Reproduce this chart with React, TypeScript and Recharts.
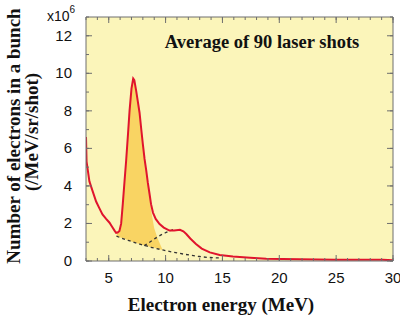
import React from 'react';
import { ComposedChart, Line, Area, XAxis, YAxis, CartesianGrid } from 'recharts';

// Electron energy (MeV) / electrons per MeV/sr/shot (x10^6)
const spectrumEnergy = [3.0, 3.05, 3.3, 3.56, 3.89, 4.16, 4.45, 4.77, 5.07, 5.28, 5.51, 5.65, 5.78, 5.94, 6.09, 6.24, 6.39, 6.53, 6.7, 6.83, 7.0, 7.15, 7.25, 7.41, 7.56, 7.71, 7.86, 8.0, 8.15, 8.3, 8.44, 8.59, 8.72, 8.89, 9.13, 9.47, 9.84, 10.34, 10.75, 11.26, 11.56, 11.82, 12.17, 12.67, 13.18, 13.89, 14.76, 15.92, 17.44, 18.85, 21.79, 24.93, 29.09, 30.0];
const spectrumCount = [6.6, 5.3, 4.24, 3.76, 3.17, 2.83, 2.48, 2.24, 2.04, 1.84, 1.62, 1.5, 1.52, 1.6, 1.99, 3.07, 4.26, 5.34, 6.82, 8.0, 9.18, 9.72, 9.63, 9.08, 8.49, 7.9, 7.02, 6.23, 5.44, 4.81, 4.16, 3.57, 3.03, 2.58, 2.24, 1.97, 1.78, 1.62, 1.62, 1.66, 1.58, 1.44, 1.2, 0.91, 0.66, 0.46, 0.32, 0.24, 0.17, 0.12, 0.09, 0.07, 0.06, 0.04];

const baselineEnergy = [5.68, 6.7, 7.71, 8.32, 8.72, 9.74, 10.75, 11.76, 12.98, 13.79, 14.8];
const baselineCount = [1.32, 1.1, 0.9, 0.8, 0.73, 0.59, 0.46, 0.35, 0.24, 0.19, 0.16];

const humpEnergy = [8.12, 8.72, 9.33, 9.94, 10.65];
const humpCount = [0.82, 1.05, 1.3, 1.49, 1.67];

const peakEnergy = [5.68, 5.78, 5.94, 6.09, 6.24, 6.39, 6.53, 6.7, 6.83, 7.0, 7.15, 7.25, 7.41, 7.56, 7.71, 7.86, 8.0, 8.15, 8.3, 8.44, 8.6, 8.75, 9.0, 9.3, 9.74];
const peakLow = [1.32, 1.3, 1.27, 1.24, 1.21, 1.18, 1.15, 1.1, 1.08, 1.04, 1.01, 0.99, 0.96, 0.93, 0.9, 0.88, 0.85, 0.83, 0.8, 0.78, 0.76, 0.74, 0.7, 0.65, 0.59];
const peakHigh = [1.32, 1.52, 1.6, 1.99, 3.07, 4.26, 5.34, 6.82, 8.0, 9.18, 9.72, 9.63, 9.08, 8.49, 7.9, 7.02, 6.23, 5.44, 4.81, 4.16, 3.5, 2.6, 1.75, 1.2, 0.59];

const xTicks = [3, 4, 5, 6, 7, 8, 9, 10, 11, 12, 13, 14, 15, 16, 17, 18, 19, 20, 21, 22, 23, 24, 25, 26, 27, 28, 29, 30];
const yTicks = [0, 1, 2, 3, 4, 5, 6, 7, 8, 9, 10, 11, 12, 13];

const spectrum = spectrumEnergy.map((e, i) => ({ e, n: spectrumCount[i] }));
const baseline = baselineEnergy.map((e, i) => ({ e, n: baselineCount[i] }));
const hump = humpEnergy.map((e, i) => ({ e, n: humpCount[i] }));
const peak = peakEnergy.map((e, i) => ({ e, r: [peakLow[i], peakHigh[i]] }));

const AXIS = '#6e6e6e';
const TICK_FONT = 'Liberation Sans, Arial, sans-serif';
const SERIF = 'Liberation Serif, Times New Roman, serif';
const MARGIN = { top: 16, right: 6, bottom: 21, left: 26 };
const MINOR = 3;

// tick coordinate passed by Recharts sits at the inner end of the (inward) minor tick
const makeTick = (side: 'bottom' | 'top' | 'left' | 'right') => (props: any) => {
  const { x, y, payload } = props;
  const v = payload.value as number;
  const isX = side === 'bottom' || side === 'top';
  const major = isX ? v % 5 === 0 : v % 2 === 0;
  const extra = 3;
  let line = null;
  let label = null;
  if (side === 'bottom') {
    const ay = y + MINOR;
    if (major) line = <line x1={x} y1={ay} x2={x} y2={ay - MINOR - extra} stroke={AXIS} strokeWidth={1} />;
    if (major && v > 3)
      label = (
        <text x={x} y={ay + 22} textAnchor="middle" fontFamily={TICK_FONT} fontSize={15} fill="#111">
          {v}
        </text>
      );
  } else if (side === 'top') {
    const ay = y - MINOR;
    if (major) line = <line x1={x} y1={ay} x2={x} y2={ay + MINOR + extra} stroke={AXIS} strokeWidth={1} />;
  } else if (side === 'left') {
    const ax = x - MINOR;
    if (major) line = <line x1={ax} y1={y} x2={ax + MINOR + extra} y2={y} stroke={AXIS} strokeWidth={1} />;
    if (major && v <= 12)
      label = (
        <text x={ax - 14} y={y + 5} textAnchor="end" fontFamily={TICK_FONT} fontSize={15} fill="#111">
          {v}
        </text>
      );
  } else {
    const ax = x + MINOR;
    if (major) line = <line x1={ax} y1={y} x2={ax - MINOR - extra} y2={y} stroke={AXIS} strokeWidth={1} />;
  }
  return (
    <g>
      {line}
      {label}
    </g>
  );
};

export default function App() {
  return (
    <div style={{ position: 'absolute', left: 0, top: 0, width: 400, height: 322, background: '#fff' }}>
      <ComposedChart width={400} height={322} margin={MARGIN}>
        <CartesianGrid horizontal={false} vertical={false} fill="#FBF5BA" stroke="none" />
        <Area
          xAxisId="b"
          yAxisId="l"
          data={peak}
          dataKey="r"
          type="linear"
          fill="#F9D463"
          fillOpacity={1}
          stroke="none"
          isAnimationActive={false}
          dot={false}
          activeDot={false}
        />
        <Line
          xAxisId="b"
          yAxisId="l"
          data={baseline}
          dataKey="n"
          type="monotone"
          stroke="#333"
          strokeWidth={1.3}
          strokeDasharray="3 3"
          dot={false}
          isAnimationActive={false}
        />
        <Line
          xAxisId="b"
          yAxisId="l"
          data={hump}
          dataKey="n"
          type="monotone"
          stroke="#333"
          strokeWidth={1.3}
          strokeDasharray="3 3"
          dot={false}
          isAnimationActive={false}
        />
        <Line
          xAxisId="b"
          yAxisId="l"
          data={spectrum}
          dataKey="n"
          type="linear"
          stroke="#E0142D"
          strokeWidth={2}
          dot={false}
          isAnimationActive={false}
        />
        <XAxis
          xAxisId="b"
          dataKey="e"
          type="number"
          domain={[3, 30]}
          ticks={xTicks}
          interval={0}
          allowDataOverflow
          height={40}
          stroke={AXIS}
          tickSize={-MINOR}
          tickMargin={0}
          tickLine={{ stroke: AXIS }}
          axisLine={{ stroke: AXIS }}
          tick={makeTick('bottom')}
        />
        <XAxis
          xAxisId="t"
          orientation="top"
          dataKey="e"
          type="number"
          domain={[3, 30]}
          ticks={xTicks}
          interval={0}
          allowDataOverflow
          height={1}
          stroke={AXIS}
          tickSize={-MINOR}
          tickMargin={0}
          tickLine={{ stroke: AXIS }}
          axisLine={{ stroke: AXIS }}
          tick={makeTick('top')}
        />
        <YAxis
          yAxisId="l"
          type="number"
          domain={[0, 13]}
          ticks={yTicks}
          interval={0}
          allowDataOverflow
          width={60}
          stroke={AXIS}
          tickSize={-MINOR}
          tickMargin={0}
          tickLine={{ stroke: AXIS }}
          axisLine={{ stroke: AXIS }}
          tick={makeTick('left')}
        />
        <YAxis
          yAxisId="r"
          orientation="right"
          type="number"
          domain={[0, 13]}
          ticks={yTicks}
          interval={0}
          allowDataOverflow
          width={1}
          stroke={AXIS}
          tickSize={-MINOR}
          tickMargin={0}
          tickLine={{ stroke: AXIS }}
          axisLine={{ stroke: AXIS }}
          tick={makeTick('right')}
        />
      </ComposedChart>
      <svg
        width={400}
        height={322}
        style={{ position: 'absolute', left: 0, top: 0, pointerEvents: 'none' }}
      >
        <text x={47} y={21} fontFamily={TICK_FONT} fontSize={14} fill="#111">
          x10
          <tspan dy={-8} fontSize={10}>6</tspan>
        </text>
        <text x={262} y={48} textAnchor="middle" fontFamily={SERIF} fontWeight="bold" fontSize={18.5} fill="#111">
          Average of 90 laser shots
        </text>
        <text x={221} y={311} textAnchor="middle" fontFamily={SERIF} fontWeight="bold" fontSize={19} fill="#111">
          Electron energy (MeV)
        </text>
        <g transform="translate(20,136) rotate(-90)">
          <text x={0} y={0} textAnchor="middle" fontFamily={SERIF} fontWeight="bold" fontSize={19} fill="#111">
            Number of electrons in a bunch
          </text>
          <text x={4} y={18} textAnchor="middle" fontFamily={SERIF} fontWeight="bold" fontSize={19} fill="#111">
            (/MeV/sr/shot)
          </text>
        </g>
      </svg>
    </div>
  );
}
